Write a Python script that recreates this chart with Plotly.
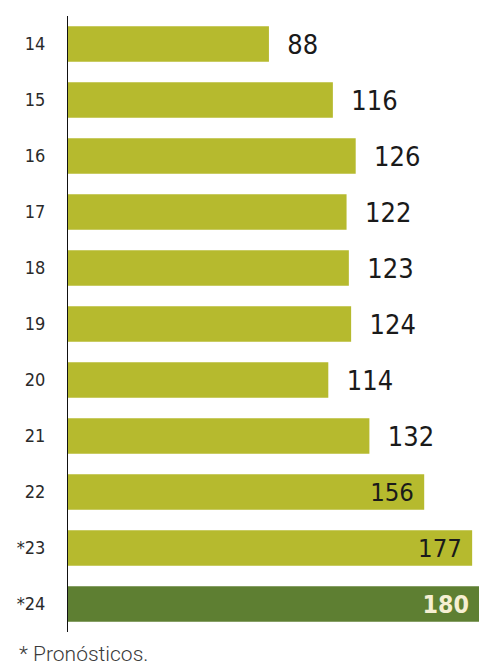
import plotly.graph_objects as go

years = ["14", "15", "16", "17", "18", "19", "20", "21", "22", "*23", "*24"]
values = [88, 116, 126, 122, 123, 124, 114, 132, 156, 177, 180]

LIGHT = "#b6ba2e"
DARK = "#5e7f32"
FONT = "DejaVu Sans Condensed, Liberation Sans Narrow, sans-serif"

colors = [DARK if y == "*24" else LIGHT for y in years]
positions = ["inside" if v >= 150 else "outside" for v in values]
labels = []
for y, v in zip(years, values):
    if y == "*24":
        labels.append(f"<b>{v}</b> ")
    elif v >= 150:
        labels.append(f"{v} ")
    else:
        labels.append(f"  {v}")
text_colors = ["#f6efd2" if y == "*24" else "#1a1a1a" for y in years]
text_sizes = [33 if y == "*24" else 27 for y in years]

fig = go.Figure(
    data=[go.Bar(
        x=values, y=years, orientation="h",
        marker=dict(color=colors, line=dict(width=0)),
        text=labels, textposition=positions,
        insidetextanchor="end", cliponaxis=False,
        textfont=dict(family=FONT, color=text_colors, size=text_sizes),
        width=0.63,
    )]
)
# page body has an 8px margin, so the figure is sized to fit the window
fig.update_layout(
    width=489, height=663,
    margin=dict(l=60, r=18, t=8, b=39, autoexpand=False),
    plot_bgcolor="white", paper_bgcolor="white",
    showlegend=False,
    uniformtext=dict(mode=False),
    font=dict(family=FONT, color="#1a1a1a"),
)
fig.update_xaxes(range=[0, 180], visible=False)
fig.update_yaxes(
    categoryorder="array", categoryarray=years, autorange="reversed",
    showline=True, linecolor="#111111", linewidth=1, showgrid=False,
    ticks="", ticklabelstandoff=18, automargin=False,
    tickfont=dict(size=18, color="#2a2a2a", weight="normal"),
)
fig.add_annotation(
    text="* Pronósticos.", xref="paper", yref="paper",
    x=-0.125, y=-0.036, xanchor="left", yanchor="middle", showarrow=False,
    font=dict(family="Roboto, Lato, sans-serif", size=21, color="#3a3a3a", weight=300),
)
fig.write_html("out.html")
